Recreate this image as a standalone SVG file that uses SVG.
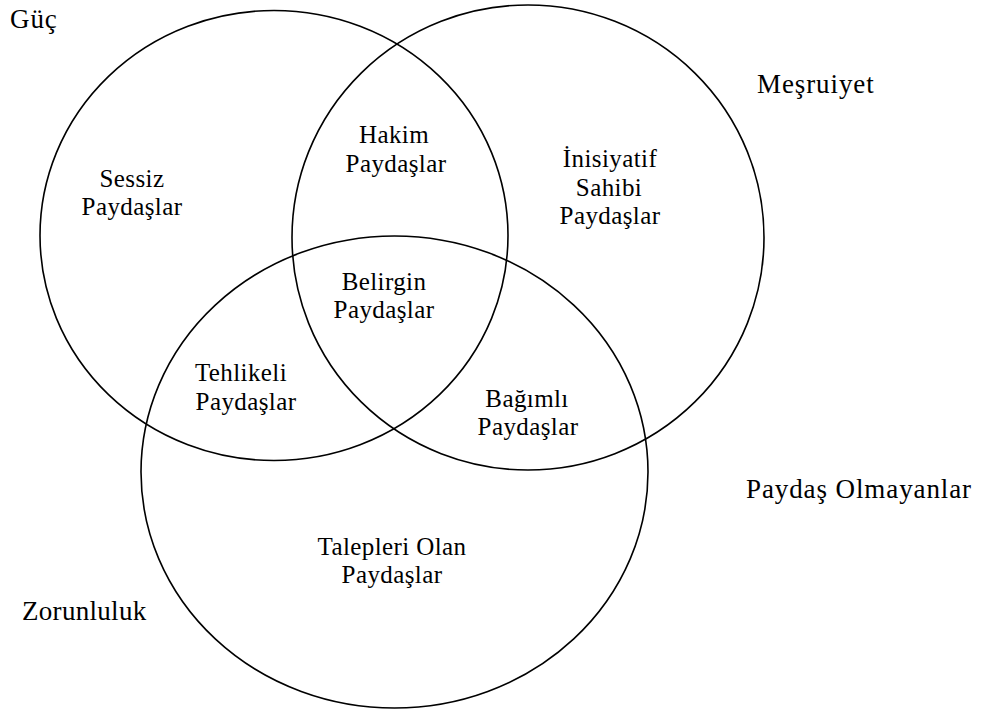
<svg xmlns="http://www.w3.org/2000/svg" width="982" height="711" viewBox="0 0 982 711">
<style>
.c{fill:none;stroke:#000;stroke-width:1.6}
text{font-family:"Liberation Serif","Times New Roman",serif;fill:#000}
.l{font-size:25px;text-anchor:middle;letter-spacing:0.4px}
.o{font-size:27px;letter-spacing:0.9px}
</style>
<rect width="982" height="711" fill="#fff"/>
<g id="connectors"></g>
<g id="guc">
<ellipse class="c" cx="274" cy="235.5" rx="234" ry="225"/>
<text class="o" x="10" y="28">Güç</text>
</g>
<g id="mesruiyet">
<ellipse class="c" cx="528" cy="237.5" rx="236" ry="232.5"/>
<text class="o" x="757" y="93">Meşruiyet</text>
</g>
<g id="zorunluluk">
<ellipse class="c" cx="394.5" cy="472" rx="253.5" ry="236"/>
<text class="o" x="22" y="620" style="letter-spacing:0.3px">Zorunluluk</text>
</g>
<g id="sessiz"><text class="l" x="132" y="187">Sessiz</text><text class="l" x="132" y="215">Paydaşlar</text></g>
<g id="hakim"><text class="l" x="394" y="143">Hakim</text><text class="l" x="396" y="172">Paydaşlar</text></g>
<g id="inisiyatif"><text class="l" x="610" y="167">İnisiyatif</text><text class="l" x="609" y="196">Sahibi</text><text class="l" x="610" y="224">Paydaşlar</text></g>
<g id="belirgin"><text class="l" x="384" y="290">Belirgin</text><text class="l" x="384" y="318">Paydaşlar</text></g>
<g id="tehlikeli"><text class="l" x="241" y="381">Tehlikeli</text><text class="l" x="246" y="410">Paydaşlar</text></g>
<g id="bagimli"><text class="l" x="527" y="407">Bağımlı</text><text class="l" x="528" y="435">Paydaşlar</text></g>
<g id="talepleri"><text class="l" x="392" y="555">Talepleri Olan</text><text class="l" x="392" y="583">Paydaşlar</text></g>
<g id="paydas-olmayanlar"><text class="o" x="746" y="498">Paydaş Olmayanlar</text></g>
</svg>
